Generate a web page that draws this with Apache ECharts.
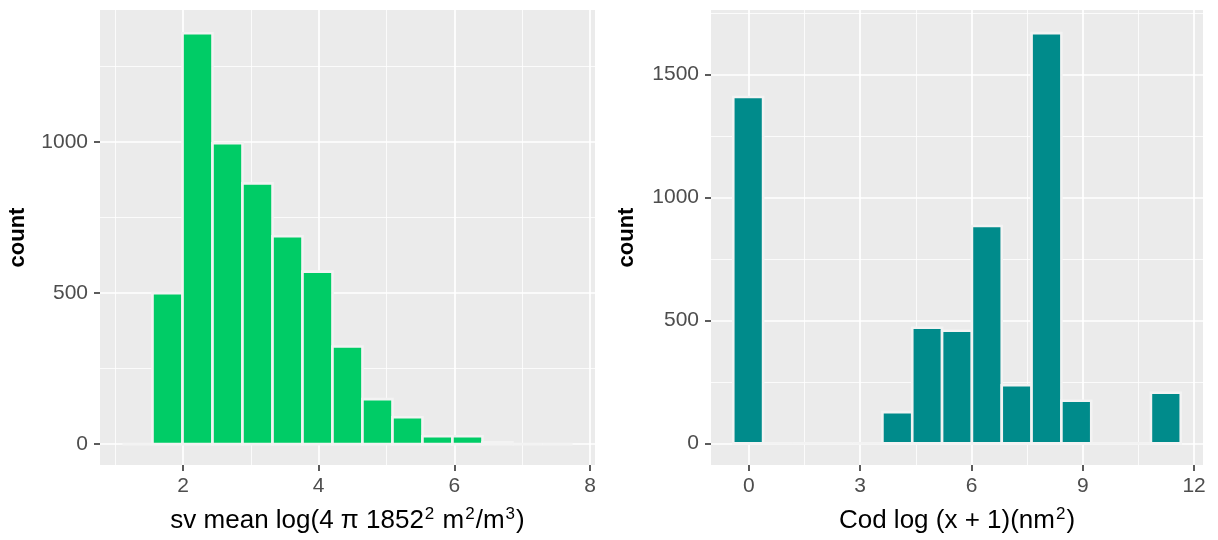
<!DOCTYPE html>
<html><head><meta charset="utf-8">
<script src="https://cdn.jsdelivr.net/npm/echarts@6/dist/echarts.min.js"></script>
<style>html,body{margin:0;padding:0;background:#fff}#c{width:1218px;height:540px}</style>
</head><body><div id="c"></div>
<script>
// ---- data ----
const svBinEdges = [1.107,1.549,1.992,2.434,2.876,3.319,3.761,4.203,4.645,5.088,5.530,5.972,6.415,6.857,7.299,7.742];
const svCounts   = [0,500,1360,996,863,688,571,323,149,89,26,26,6,0,0];
const codBinEdges = [-0.42,0.384,1.188,1.992,2.796,3.6,4.404,5.208,6.012,6.816,7.62,8.424,9.228,10.032,10.836,11.64];
const codCounts   = [1408,0,0,0,0,127,470,458,884,236,1668,173,0,0,206];
const svXTicks = [2,4,6,8];
const svXMinor = [1,3,5,7];
const svYTicks = [0,500,1000];
const svYMinor = [250,750,1250];
const codXTicks = [0,3,6,9,12];
const codXMinor = [1.5,4.5,7.5,10.5];
const codYTicks = [0,500,1000,1500];
const codYMinor = [250,750,1250,1750];
// axis titles (rich text: {s|…} = superscript)
const svTitle = '{n|sv mean log(4 π 1852}{s|2}{n| m}{s|2}{n|/m}{s|3}{n|)}';
const codTitle = '{n|Cod log (x + 1)(nm}{s|2}{n|)}';
const yTitle = 'count';

// ---- chart ----
const F = '"Liberation Sans", Arial, sans-serif';
function bins(edges, counts){ return counts.map((c,i)=>[edges[i], edges[i+1], c]); }
function render(fill){
  return function(params, api){
    const pa = api.coord([api.value(0), api.value(2)]);
    const pb = api.coord([api.value(1), 0]);
    return {type:'rect', shape:{x:pa[0], y:pa[1], width:pb[0]-pa[0], height:pb[1]-pa[1]},
      style:{fill:fill, stroke:'#f3f3f3', lineWidth:2.6}};
  };
}
const plain = v => String(v);
function majorX(g,min,max,ticks,name){
  return {type:'value', gridIndex:g, position:'bottom', min, max, name, nameLocation:'middle', nameGap:41,
    nameTextStyle:{fontFamily:F, fontSize:26, color:'#000',
      rich:{n:{fontFamily:F, fontSize:26, color:'#000', lineHeight:30},
            s:{fontFamily:F, fontSize:17, color:'#000', verticalAlign:'top', lineHeight:30, padding:[0,1,0,1]}}},
    axisLine:{show:false, onZero:false},
    axisTick:{show:true, length:6, lineStyle:{color:'#333', width:1.6}, customValues:ticks},
    axisLabel:{customValues:ticks, formatter:plain, margin:11, fontSize:21, color:'#4d4d4d', fontFamily:F},
    splitLine:{show:true, lineStyle:{color:'#fff', width:1.7}}};
}
function majorY(g,min,max,ticks,gap){
  return {type:'value', gridIndex:g, position:'left', min, max, name:yTitle, nameLocation:'middle', nameGap:gap, nameRotate:90,
    nameTextStyle:{fontFamily:F, fontSize:22, fontWeight:'bold', color:'#000'},
    axisLine:{show:false, onZero:false},
    axisTick:{show:true, length:6, lineStyle:{color:'#333', width:1.6}, customValues:ticks},
    axisLabel:{customValues:ticks, formatter:plain, margin:12, fontSize:21, color:'#4d4d4d', fontFamily:F},
    splitLine:{show:true, lineStyle:{color:'#fff', width:1.7}}};
}
function minor(g,min,max,ticks,pos){
  return {type:'value', gridIndex:g, position:pos, min, max,
    axisLine:{show:false, onZero:false}, axisTick:{show:false, customValues:ticks},
    axisLabel:{show:false}, splitLine:{show:true, lineStyle:{color:'#fff', width:0.8}}};
}
const chart = echarts.init(document.getElementById('c'), null, {renderer:'canvas'});
chart.setOption({
  animation:false,
  backgroundColor:'#ffffff',
  grid:[
    {left:100, top:10, width:495, height:455, show:true, backgroundColor:'#ebebeb', borderWidth:0, containLabel:false, outerBoundsMode:'none'},
    {left:711, top:10, width:492, height:455, show:true, backgroundColor:'#ebebeb', borderWidth:0, containLabel:false, outerBoundsMode:'none'}
  ],
  xAxis:[
    majorX(0,0.775,8.074,svXTicks,svTitle),
    majorX(1,-1.02,12.24,codXTicks,codTitle),
    minor(0,0.775,8.074,svXMinor,'top'),
    minor(1,-1.02,12.24,codXMinor,'top')
  ],
  yAxis:[
    majorY(0,-69,1437,svYTicks,71),
    majorY(1,-88,1762,codYTicks,73),
    minor(0,-69,1437,svYMinor,'right'),
    minor(1,-88,1762,codYMinor,'right')
  ],
  series:[
    {type:'custom', xAxisIndex:0, yAxisIndex:0, renderItem:render('#00cc66'),
      encode:{x:[0,1], y:2}, data:bins(svBinEdges, svCounts), z:5},
    {type:'custom', xAxisIndex:1, yAxisIndex:1, renderItem:render('#008b8b'),
      encode:{x:[0,1], y:2}, data:bins(codBinEdges, codCounts), z:5}
  ]
});
</script></body></html>
